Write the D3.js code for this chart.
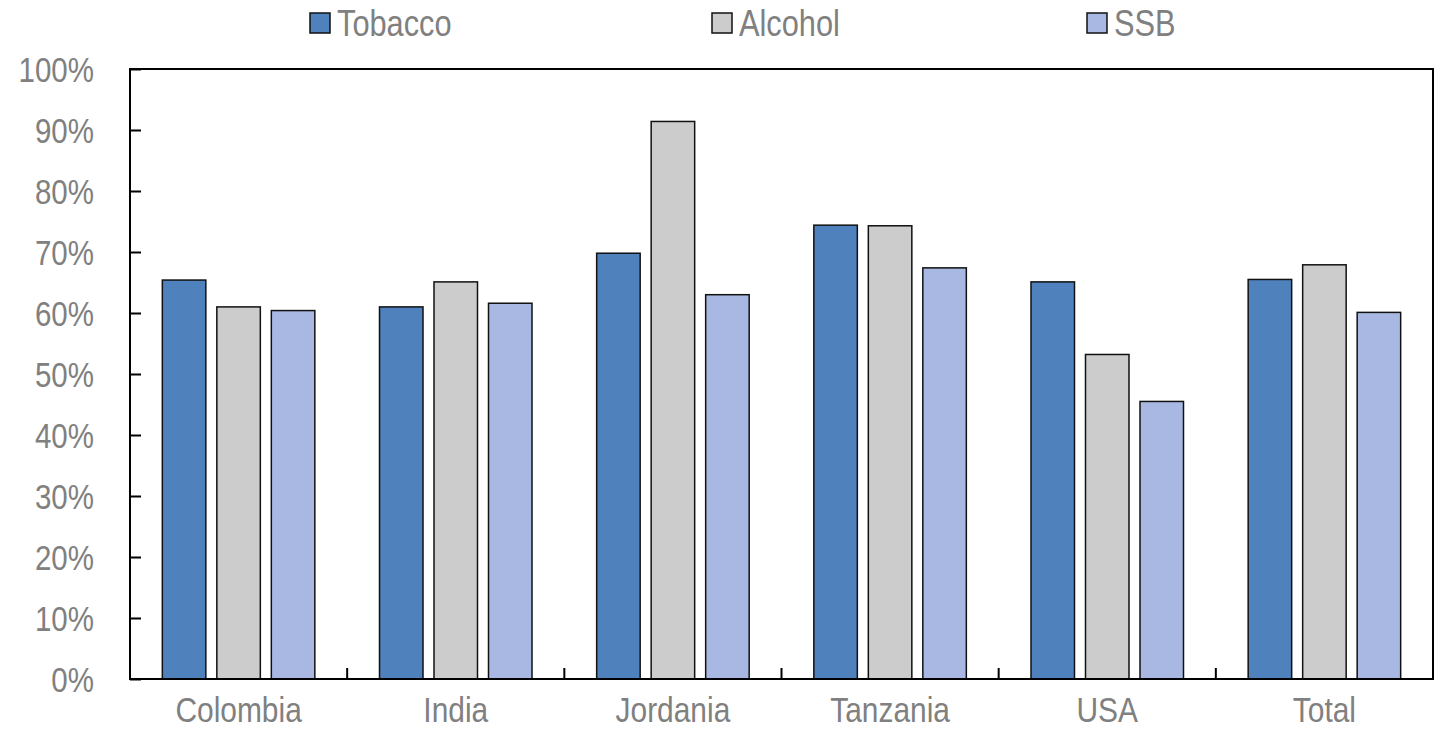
<!DOCTYPE html>
<html>
<head>
<meta charset="utf-8">
<script src="https://cdn.jsdelivr.net/npm/d3@7"></script>
<style>
  body { margin: 0; background: #fff; }
  svg text { font-family: "Liberation Sans", Arial, sans-serif; fill: #808080; }
</style>
</head>
<body>
<svg id="chart" width="1440" height="730"></svg>
<script>
const countries = ["Colombia", "India", "Jordania", "Tanzania", "USA", "Total"];
const seriesNames = ["Tobacco", "Alcohol", "SSB"];
const tobacco = [65.4, 61.0, 69.8, 74.4, 65.1, 65.5];
const alcohol = [61.0, 65.1, 91.4, 74.3, 53.2, 67.9];
const ssb = [60.4, 61.6, 63.0, 67.4, 45.5, 60.1];
const yTicks = [0, 10, 20, 30, 40, 50, 60, 70, 80, 90, 100];

const colors = ["#4f81bd", "#cccccc", "#a9b8e2"];
const values = [tobacco, alcohol, ssb];

// no narrow font installed, so squeeze regular sans horizontally
const NARROW_TICK = 0.82;
const NARROW = 0.855;

const svg = d3.select("#chart");
const margin = { top: 69, right: 7, bottom: 51, left: 130 };
const width = 1440 - margin.left - margin.right;
const height = 730 - margin.top - margin.bottom;

const g = svg.append("g").attr("transform", `translate(${margin.left},${margin.top})`);

const x = d3.scaleBand().domain(countries).range([0, width]);
const y = d3.scaleLinear().domain([0, 100]).range([height, 0]);

// 3 bars of 43.5px with 11px gaps, centered in each band
const barW = 43.5, gap = 11;
const groupW = 3 * barW + 2 * gap;
const xs = d3.scaleBand().domain(seriesNames)
  .range([x.bandwidth() / 2 - groupW / 2, x.bandwidth() / 2 + groupW / 2])
  .paddingInner(gap / (barW + gap));

const rows = countries.flatMap((c, i) =>
  seriesNames.map((s, j) => ({ country: c, series: s, value: values[j][i], color: colors[j] })));

g.selectAll("rect.bar")
  .data(rows)
  .enter()
  .append("rect")
  .attr("class", "bar")
  .attr("x", d => x(d.country) + xs(d.series))
  .attr("width", xs.bandwidth())
  .attr("y", d => y(d.value))
  .attr("height", d => height - y(d.value))
  .attr("fill", d => d.color)
  .attr("stroke", "#111")
  .attr("stroke-width", 1.5);

// y axis with inward ticks
const yAxis = g.append("g")
  .call(d3.axisLeft(y).tickValues(yTicks).tickSize(-11).tickPadding(36).tickFormat(d => d + "%"));
yAxis.select(".domain").remove();
yAxis.selectAll(".tick line").attr("stroke", "#000").attr("stroke-width", 2);
yAxis.selectAll("text")
  .attr("font-size", 36)
  .attr("dy", "0.36em")
  .attr("fill", "#808080")
  .attr("x", -36 / NARROW_TICK)
  .attr("transform", `scale(${NARROW_TICK},1)`);

// x axis: ticks at category boundaries pointing up
const bounds = countries.slice(1).map(c => x(c));
g.selectAll("line.xtick")
  .data(bounds)
  .enter()
  .append("line")
  .attr("class", "xtick")
  .attr("x1", d => d).attr("x2", d => d)
  .attr("y1", height).attr("y2", height - 11)
  .attr("stroke", "#000").attr("stroke-width", 2);

g.selectAll("text.xlabel")
  .data(countries)
  .enter()
  .append("text")
  .attr("class", "xlabel")
  .attr("transform", d => `translate(${x(d) + x.bandwidth() / 2},${height + 43}) scale(${NARROW},1)`)
  .attr("text-anchor", "middle")
  .attr("font-size", 35)
  .text(d => d);

// plot box
g.append("rect")
  .attr("width", width).attr("height", height)
  .attr("fill", "none").attr("stroke", "#000").attr("stroke-width", 2);

// legend
const legendX = [310, 712, 1087];
const legend = svg.selectAll("g.legend")
  .data(seriesNames)
  .enter()
  .append("g")
  .attr("class", "legend")
  .attr("transform", (d, i) => `translate(${legendX[i]},13)`);

legend.append("rect")
  .attr("width", 20).attr("height", 20)
  .attr("fill", (d, i) => colors[i])
  .attr("stroke", "#111").attr("stroke-width", 1.5);

legend.append("text")
  .attr("transform", `translate(27,23) scale(${NARROW},1)`)
  .attr("font-size", 36)
  .text(d => d);
</script>
</body>
</html>
